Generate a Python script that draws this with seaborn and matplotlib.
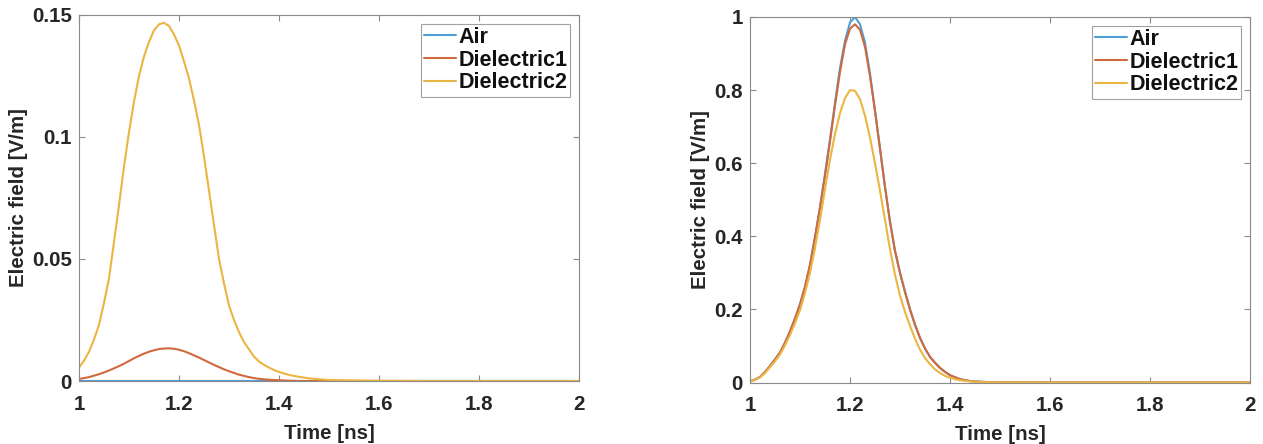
import numpy as np
import pandas as pd
import matplotlib
matplotlib.use("Agg")
import matplotlib.pyplot as plt
import seaborn as sns

# ---------------- data ----------------
series_names = ["Air", "Dielectric1", "Dielectric2"]

time_left = [1.00, 1.01, 1.02, 1.03, 1.04, 1.05, 1.06, 1.07, 1.08, 1.09,
             1.10, 1.11, 1.12, 1.13, 1.14, 1.15, 1.16, 1.17, 1.18, 1.19,
             1.20, 1.21, 1.22, 1.23, 1.24, 1.25, 1.26, 1.27, 1.28, 1.29,
             1.30, 1.31, 1.32, 1.33, 1.34, 1.35, 1.36, 1.37, 1.38, 1.39,
             1.40, 1.42, 1.44, 1.46, 1.48, 1.50, 1.60, 1.70, 1.80, 1.90, 2.00]
air_left = [0.0] * 51
diel1_left = [0.0008, 0.0012, 0.0016, 0.0022, 0.0028, 0.0035, 0.0043, 0.0052,
              0.0061, 0.0071, 0.0082, 0.0093, 0.0103, 0.0112, 0.0120, 0.0126,
              0.0131, 0.0133, 0.0134, 0.0132, 0.0128, 0.0122, 0.0114, 0.0105,
              0.0096, 0.0086, 0.0076, 0.0066, 0.0057, 0.0048, 0.0040, 0.0033,
              0.0026, 0.0021, 0.0016, 0.0012, 0.0009, 0.0007, 0.0005, 0.0004,
              0.0003, 0.0001, 0.0, 0.0, 0.0, 0.0, 0.0, 0.0, 0.0, 0.0, 0.0]
diel2_left = [0.0055, 0.0083, 0.012, 0.017, 0.023, 0.032, 0.042, 0.057, 0.072,
              0.088, 0.102, 0.1145, 0.125, 0.133, 0.139, 0.1437, 0.1462,
              0.1468, 0.1455, 0.142, 0.1375, 0.131, 0.124, 0.115, 0.105, 0.092,
              0.078, 0.064, 0.050, 0.040, 0.031, 0.025, 0.020, 0.016, 0.013,
              0.010, 0.008, 0.0066, 0.0055, 0.0045, 0.0037, 0.0025, 0.0017,
              0.0011, 0.0007, 0.0004, 0.0001, 0.0, 0.0, 0.0, 0.0]

time_right = list(time_left)
air_right = [0.003, 0.008, 0.015, 0.029, 0.045, 0.063, 0.082, 0.109, 0.140,
             0.175, 0.214, 0.262, 0.322, 0.398, 0.480, 0.570, 0.665, 0.765,
             0.860, 0.935, 0.985, 1.000, 0.980, 0.930, 0.845, 0.745, 0.640,
             0.535, 0.440, 0.360, 0.300, 0.248, 0.200, 0.158, 0.122, 0.093,
             0.070, 0.054, 0.040, 0.029, 0.020, 0.009, 0.004, 0.002, 0.001,
             0.0005, 0.0, 0.0, 0.0, 0.0, 0.0]
diel1_right = [0.003, 0.008, 0.015, 0.029, 0.045, 0.063, 0.082, 0.109, 0.140,
               0.175, 0.214, 0.262, 0.322, 0.397, 0.478, 0.566, 0.660, 0.758,
               0.850, 0.925, 0.968, 0.980, 0.965, 0.918, 0.838, 0.742, 0.640,
               0.535, 0.440, 0.360, 0.300, 0.248, 0.200, 0.158, 0.122, 0.093,
               0.070, 0.054, 0.040, 0.029, 0.020, 0.009, 0.004, 0.002, 0.001,
               0.0005, 0.0, 0.0, 0.0, 0.0, 0.0]
diel2_right = [0.003, 0.007, 0.014, 0.026, 0.042, 0.058, 0.077, 0.102, 0.130,
               0.162, 0.198, 0.245, 0.300, 0.368, 0.445, 0.530, 0.610, 0.680,
               0.737, 0.778, 0.800, 0.798, 0.775, 0.730, 0.670, 0.600, 0.525,
               0.445, 0.365, 0.295, 0.238, 0.193, 0.155, 0.120, 0.090, 0.067,
               0.050, 0.036, 0.026, 0.018, 0.013, 0.006, 0.003, 0.0015, 0.0008,
               0.0004, 0.0, 0.0, 0.0, 0.0, 0.0]

xticks = [1, 1.2, 1.4, 1.6, 1.8, 2]
xtick_labels = ["1", "1.2", "1.4", "1.6", "1.8", "2"]
yticks_left = [0, 0.05, 0.1, 0.15]
ytick_labels_left = ["0", "0.05", "0.1", "0.15"]
yticks_right = [0, 0.2, 0.4, 0.6, 0.8, 1]
ytick_labels_right = ["0", "0.2", "0.4", "0.6", "0.8", "1"]

x_label = "Time [ns]"
y_label = "Electric field [V/m]"

# ---------------- styling ----------------
sns.set_theme(style="white")
plt.rcParams["font.family"] = ["Liberation Sans", "DejaVu Sans"]
plt.rcParams["font.weight"] = "bold"
plt.rcParams["axes.labelweight"] = "bold"

colors = ["#4f9fd6", "#d0693d", "#ebb542"]
palette = dict(zip(series_names, colors))
text_color = "#262626"
spine_color = "#8a8a8a"
fs = 14.8
legend_fs = 15.5

fig = plt.figure(figsize=(12.63, 4.44), dpi=100)
ax1 = fig.add_axes([79 / 1263, 1 - 381 / 444, 500 / 1263, 366 / 444])
ax2 = fig.add_axes([750 / 1263, 1 - 382.5 / 444, 500 / 1263, 365.5 / 444])


def long_frame(t, cols):
    frames = []
    for name, vals in zip(series_names, cols):
        frames.append(pd.DataFrame({"t": t, "v": vals, "series": name}))
    return pd.concat(frames, ignore_index=True)


df_left = long_frame(time_left, [air_left, diel1_left, diel2_left])
df_right = long_frame(time_right, [air_right, diel1_right, diel2_right])

for ax, df, yt, ytl, ylim in [
    (ax1, df_left, yticks_left, ytick_labels_left, (0, 0.15)),
    (ax2, df_right, yticks_right, ytick_labels_right, (0, 1)),
]:
    sns.lineplot(data=df, x="t", y="v", hue="series", palette=palette,
                 hue_order=series_names, ax=ax, linewidth=1.5, sort=False,
                 estimator=None)
    ax.set_xlim(1, 2)
    ax.set_ylim(*ylim)
    ax.set_xticks(xticks)
    ax.set_xticklabels(xtick_labels)
    ax.set_yticks(yt)
    ax.set_yticklabels(ytl)
    ax.set_xlabel(x_label, fontsize=fs, fontweight="bold", color=text_color,
                  labelpad=7)
    ax.set_ylabel(y_label, fontsize=fs, fontweight="bold", color=text_color,
                  labelpad=3)
    ax.tick_params(axis="both", direction="in", length=4, width=0.8,
                   color=spine_color, labelsize=fs, labelcolor=text_color,
                   top=True, right=True, bottom=True, left=True)
    ax.tick_params(axis="x", pad=10)
    ax.tick_params(axis="y", pad=5)
    for lab in ax.get_xticklabels() + ax.get_yticklabels():
        lab.set_fontweight("bold")
    for sp in ax.spines.values():
        sp.set_visible(True)
        sp.set_color(spine_color)
        sp.set_linewidth(0.8)
    leg = ax.legend(loc="upper right", fontsize=legend_fs, frameon=True,
                    handlelength=1.45, handletextpad=0.12, labelspacing=0.08,
                    borderpad=0.15, borderaxespad=0.4, fancybox=False,
                    title=None)
    leg.get_frame().set_edgecolor(spine_color)
    leg.get_frame().set_linewidth(0.8)
    for txt in leg.get_texts():
        txt.set_fontweight("bold")
        txt.set_color("#111111")

fig.savefig("out.png", dpi=100)
